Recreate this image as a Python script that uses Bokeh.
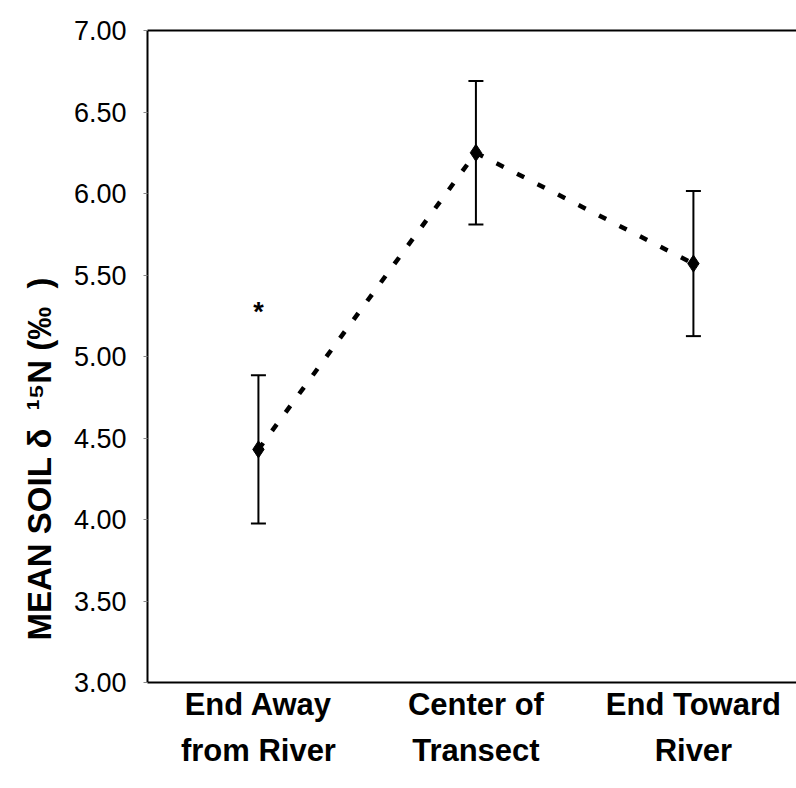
import math
from bokeh.plotting import figure
from bokeh.models import (ColumnDataSource, FixedTicker, LinearAxis, Range1d,
                          Whisker, TeeHead, Title, CustomJSTickFormatter)
from bokeh.core.properties import value
from bokeh.embed import file_html
from bokeh.resources import INLINE

categories = ["End Away\nfrom River", "Center of\nTransect", "End Toward\nRiver"]
positions = [1, 2, 3]
means = [4.43, 6.25, 5.57]
errors = [0.455, 0.44, 0.445]
y_ticks = [3.0, 3.5, 4.0, 4.5, 5.0, 5.5, 6.0, 6.5, 7.0]
star_pos = [1]
star_val = [5.27]

upper = [m + e for m, e in zip(means, errors)]
lower = [m - e for m, e in zip(means, errors)]
src = ColumnDataSource(dict(x=positions, y=means, upper=upper, lower=lower))

FONT = "Liberation Sans"

p = figure(width=796, height=788, output_backend="svg", toolbar_location=None,
           x_range=Range1d(0.49, 3.474), y_range=Range1d(3.0, 7.0),
           min_border_left=147, min_border_right=0, min_border_top=30,
           min_border_bottom=106)
p.outline_line_color = None
p.xgrid.visible = False
p.ygrid.visible = False
p.background_fill_color = "white"
p.border_fill_color = "white"

# y axis
ya = p.yaxis[0]
ya.ticker = FixedTicker(ticks=y_ticks)
ya.formatter = CustomJSTickFormatter(code="return tick.toFixed(2);")
ya.major_label_text_font = FONT
ya.major_label_text_font_size = "27px"
ya.major_label_text_color = "black"
ya.major_tick_out = 4
ya.major_tick_in = 0
ya.minor_tick_out = 0
ya.minor_tick_in = 0
ya.major_label_standoff = 17
ya.axis_line_width = 2
ya.axis_line_color = "black"
ya.major_tick_line_color = "#888888"

# x axis
xa = p.xaxis[0]
xa.ticker = FixedTicker(ticks=positions)
xa.major_label_overrides = {pos: lab for pos, lab in zip(positions, categories)}
xa.major_label_text_font = FONT
xa.major_label_text_font_style = "bold"
xa.major_label_text_font_size = "31px"
xa.major_label_text_color = "black"
xa.major_label_text_line_height = 1.32
xa.major_tick_out = 0
xa.major_tick_in = 0
xa.minor_tick_out = 0
xa.minor_tick_in = 0
xa.major_label_standoff = 4
xa.axis_line_width = 2
xa.axis_line_color = "black"

# top border line
top = LinearAxis(ticker=FixedTicker(ticks=[]), major_label_text_font_size="0px",
                 major_tick_out=0, major_tick_in=0, minor_tick_out=0, minor_tick_in=0,
                 axis_line_width=2, axis_line_color="black")
p.add_layout(top, "above")

# dashed connecting line
p.line("x", "y", source=src, line_color="black", line_width=4.5, line_dash="8 15")

# error bars
w = Whisker(base="x", upper="upper", lower="lower", source=src,
            line_color="black", line_width=2,
            upper_head=TeeHead(size=15, line_width=2, line_color="black"),
            lower_head=TeeHead(size=15, line_width=2, line_color="black"))
p.add_layout(w)

# markers
p.scatter("x", "y", source=src, marker="diamond", size=17, fill_color="black",
          line_color="black")

# asterisk
p.text(x=star_pos, y=star_val, text=["*"], text_align="center", text_baseline="middle",
       text_font=value(FONT), text_font_size="27px", text_font_style="bold",
       text_color="black")

# y axis title, placed as a side title so it can sit off-centre like the original
yt = Title(text="MEAN SOIL \u03b4\u00a0\u00a0\u00b9\u2075N (\u2030\u00a0\u00a0)",
           align="left", offset=42, standoff=26, text_font=FONT,
           text_font_style="bold", text_font_size="33px", text_color="black")
p.add_layout(yt, "left")

open("out.html", "w").write(file_html(p, INLINE))
